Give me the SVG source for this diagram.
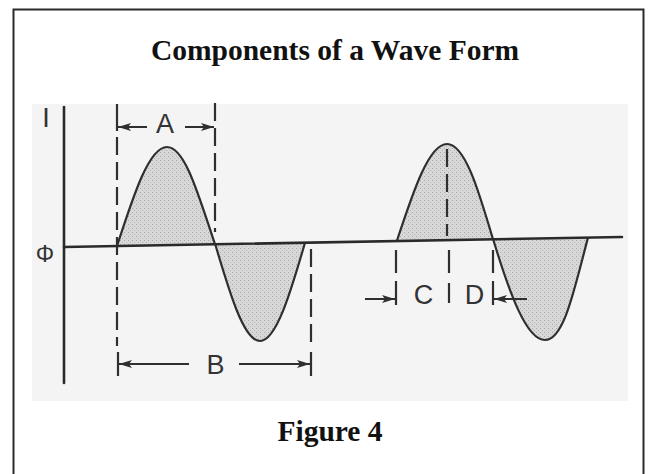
<svg xmlns="http://www.w3.org/2000/svg" width="648" height="474" viewBox="0 0 648 474">
  <defs>
    <style>
      .ttl { font-family: "Liberation Serif", "Times New Roman", serif; font-weight: bold; font-size: 29.5px; fill: #111; text-anchor: middle; }
      .lbl { font-family: "Liberation Sans", Arial, sans-serif; font-size: 27px; fill: #333; text-anchor: middle; }
      .ax { stroke: #2a2a2a; stroke-width: 2.6; fill: none; stroke-linecap: round; }
      .wave { stroke: #2f2f2f; stroke-width: 2.2; fill: url(#stip); }
      .dash { stroke: #2f2f2f; stroke-width: 2.2; fill: none; stroke-dasharray: 18 7; }
      .tick { stroke: #2f2f2f; stroke-width: 2.2; fill: none; }
      .dim { stroke: #2f2f2f; stroke-width: 2; fill: none; marker-end: url(#arr); }
    </style>
    <pattern id="stip" width="4" height="4" patternUnits="userSpaceOnUse">
      <rect width="4" height="4" fill="#d8d8d8"/>
      <rect x="0" y="0" width="1" height="1" fill="#a8a8a8"/>
      <rect x="2" y="2" width="1" height="1" fill="#b4b4b4"/>
    </pattern>
    <marker id="arr" viewBox="0 0 13 8" refX="13" refY="4" markerWidth="13" markerHeight="8" orient="auto" markerUnits="userSpaceOnUse">
      <path d="M0,0 L13,4 L0,8 L3,4 z" fill="#2f2f2f"/>
    </marker>
  </defs>

  <rect x="13.5" y="9.5" width="630" height="480" fill="#ffffff" stroke="#2a2a2a" stroke-width="2"/>

  <text class="ttl" x="335" y="60">Components of a Wave Form</text>

  <g id="plot">
    <rect x="32" y="104" width="596" height="297" fill="#f4f4f4"/>

    <g id="lobes">
      <path class="wave" d="M117,246 C133.3,195.8 148.9,147 167,147 C185.1,147 198.7,195.8 215,244.3"/>
      <path class="wave" d="M215,243.5 C229.8,293.5 243.9,341 260,341 C276.1,341 290.3,293.5 305,242.7"/>
      <path class="wave" d="M397,240.5 C413.3,191 428.9,144 447,144 C465.1,144 478.7,191 493,239.3"/>
      <path class="wave" d="M493,238.8 C508.5,290 525.9,340 545,340 C564.1,340 574,290 588,237.6"/>
    </g>

    <g id="axes">
      <line class="ax" x1="64" y1="107" x2="64" y2="383"/>
      <line class="ax" x1="64" y1="247" x2="622" y2="237"/>
    </g>

    <g id="guides">
      <line class="tick" x1="117" y1="104" x2="117" y2="131"/>
      <line class="dash" x1="117" y1="137" x2="117" y2="346"/>
      <line class="tick" x1="118" y1="352" x2="118" y2="376"/>
      <line class="dash" x1="215" y1="103" x2="215" y2="232"/>
      <line class="dash" x1="311" y1="249" x2="311" y2="346"/>
      <line class="tick" x1="311" y1="352" x2="311" y2="376"/>
      <line class="dash" x1="447" y1="149" x2="447" y2="236"/>
      <line class="tick" x1="396" y1="250" x2="396" y2="273"/>
      <line class="tick" x1="396" y1="281" x2="396" y2="305"/>
      <line class="tick" x1="449" y1="250" x2="449" y2="273"/>
      <line class="tick" x1="449" y1="283" x2="449" y2="303"/>
      <line class="tick" x1="493" y1="250" x2="493" y2="273"/>
      <line class="tick" x1="493" y1="281" x2="493" y2="305"/>
    </g>

    <g id="dimensions">
      <line class="dim" x1="147" y1="127" x2="118" y2="127"/>
      <line class="dim" x1="185" y1="127" x2="214" y2="127"/>
      <line class="dim" x1="189" y1="364" x2="119" y2="364"/>
      <line class="dim" x1="239" y1="364" x2="310" y2="364"/>
      <line class="dim" x1="365" y1="299" x2="395" y2="299"/>
      <line class="dim" x1="527" y1="299" x2="494" y2="299"/>
    </g>

    <g id="labels">
      <text class="lbl" x="46" y="127">I</text>
      <text class="lbl" x="45" y="262" style="font-size:23px">Φ</text>
      <text class="lbl" x="165" y="133">A</text>
      <text class="lbl" x="215.5" y="374">B</text>
      <text class="lbl" x="423.5" y="304">C</text>
      <text class="lbl" x="474.5" y="304">D</text>
    </g>
  </g>

  <text class="ttl" x="330" y="441">Figure 4</text>
</svg>
